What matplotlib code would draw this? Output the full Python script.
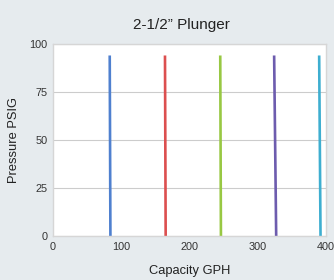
import matplotlib
matplotlib.use("Agg")
import matplotlib.pyplot as plt

# Data: capacity (GPH) at 0 psi and at top pressure for each speed line
pressure = [0, 94]
cap_blue = [84, 83]
cap_red = [165, 164]
cap_green = [246, 245]
cap_purple = [327, 324]
cap_cyan = [392, 390]
series = [cap_blue, cap_red, cap_green, cap_purple, cap_cyan]
colors = ["#4f80cf", "#dc4f4f", "#98c843", "#6d5cae", "#3eaed0"]

xticks = [0, 100, 200, 300, 400]
yticks = [0, 25, 50, 75, 100]

bg = "#e6ebee"
fig = plt.figure(figsize=(3.34, 2.80), dpi=100, facecolor=bg)
ax = fig.add_axes([0.159, 0.157, 0.817, 0.686])
ax.set_facecolor("white")

for cap, c in zip(series, colors):
    ax.plot(cap, pressure, color=c, lw=1.9, solid_capstyle="butt")

ax.set_xlim(0, 400)
ax.set_ylim(0, 100)
ax.set_xticks(xticks)
ax.set_yticks(yticks)
ax.grid(axis="y", color="#cccccc", lw=0.8)
ax.set_axisbelow(True)
for s in ax.spines.values():
    s.set_color("#d6d6d6")
    s.set_linewidth(1.0)
ax.tick_params(length=0, labelsize=7.8, colors="#333333", pad=4)

ax.set_title("2-1/2\u201d Plunger", fontsize=11, color="#222222", pad=11,
             family="Liberation Sans", x=0.47)
ax.set_xlabel("Capacity GPH", fontsize=9.3, color="#222222", labelpad=10,
              family="Liberation Sans")
ax.set_ylabel("Pressure PSIG", fontsize=9.3, color="#222222", labelpad=7,
              family="Liberation Sans")
for lab in ax.get_xticklabels() + ax.get_yticklabels():
    lab.set_family("Liberation Sans")

fig.savefig("out.png", dpi=100, facecolor=bg)
